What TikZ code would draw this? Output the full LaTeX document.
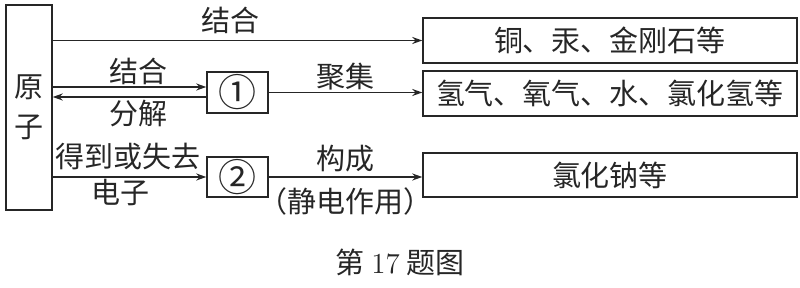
\documentclass[tikz,border=0pt]{standalone}
\usepackage{fontspec}
\newfontfamily\cjk{Noto Sans CJK SC}
\usetikzlibrary{arrows.meta}

\tikzset{
  box/.style={draw=black!85, line width=0.7pt, inner sep=0pt},
  lbl/.style={inner sep=1pt},
  link/.style={-{Stealth[length=5pt,width=3.5pt]}, line width=0.7pt, draw=black!85},
}

\begin{document}
\begin{tikzpicture}[x=0.5pt, y=-0.5pt, font=\cjk\fontsize{14.5}{20}\selectfont, text=black!85]
        \useasboundingbox (0,0) rectangle (800,288);

        % Atom
        \node[box, minimum width=23pt, minimum height=102.5pt, align=center] (atom) at (29,107.5) {原\\子};

        % Substances
        \node[box, minimum width=187pt, minimum height=22.5pt] (metal) at (610,40.5) {铜、汞、金刚石等};
        \node[box, minimum width=187pt, minimum height=22.5pt] (gas) at (610,93.5) {氢气、氧气、水、氯化氢等};
        \node[box, minimum width=187pt, minimum height=22pt] (salt) at (610,175) {氯化钠等};

        % Particles
        \node[box, minimum width=30.5pt, minimum height=20.5pt, font=\cjk\fontsize{19}{20}\selectfont] (mol) at (237.5,92.5) {①};
        \node[box, minimum width=30.5pt, minimum height=20pt, font=\cjk\fontsize{19}{20}\selectfont] (ion) at (237.5,177) {②};
        \coordinate (molup) at ([yshift=2.75pt]mol.west);
        \coordinate (moldown) at ([yshift=-2.25pt]mol.west);

        % Arrows
        \draw[link] (atom.east|-metal.west) -- (metal.west) node[lbl, pos=0.48, above=2pt] (lbltop) {结合};
        \draw[link] (atom.east|-molup) -- (molup) node[lbl, pos=0.56, above] (lblbind) {结合};
        \draw[link] (moldown) -- (atom.east|-moldown) node[lbl, pos=0.44, below] (lblsplit) {分解};
        \draw[link] (mol.east) -- (mol.east-|gas.west) node[lbl, midway, above] (lblgather) {聚集};
        \draw[link] (atom.east|-ion.west) -- (ion.west) node[lbl, pos=0.49, above=2pt] (lblgain) {得到或失去}
                                                    node[lbl, pos=0.44, below] (lblelec) {电子};
        \draw[link] (ion.east) -- (ion.east-|salt.west) node[lbl, midway, above=1pt] (lblform) {构成}
                                                      node[lbl, midway, below=4pt] (lblforce) {（静电作用）};

        % Caption
        \node (caption) at (400,262) {第 {\rmfamily 17} 题图};
\end{tikzpicture}
\end{document}
